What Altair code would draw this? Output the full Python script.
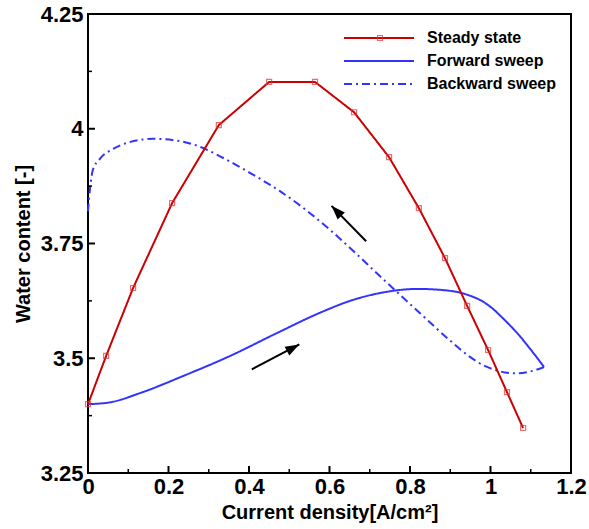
import altair as alt
import pandas as pd

# ---------------- data ----------------
names = ["Steady state", "Forward sweep", "Backward sweep"]

ss_x = [0.0, 0.045, 0.112, 0.209, 0.325, 0.45, 0.564, 0.661, 0.748, 0.822, 0.887, 0.942, 0.994, 1.041, 1.081]
ss_y = [3.40, 3.505, 3.653, 3.838, 4.008, 4.102, 4.102, 4.036, 3.938, 3.827, 3.718, 3.614, 3.518, 3.426, 3.348]

fw_x = [0.0, 0.055, 0.129, 0.241, 0.353, 0.465, 0.576, 0.651, 0.725, 0.82, 0.899, 0.95, 0.974, 1.0,
        1.031, 1.073, 1.098, 1.133]
fw_y = [3.40, 3.404, 3.424, 3.463, 3.505, 3.553, 3.599, 3.625, 3.642, 3.651, 3.647, 3.636, 3.627, 3.612,
        3.587, 3.548, 3.521, 3.481]

bw_x = [1.133, 1.098, 1.066, 1.036, 1.014, 0.984, 0.949, 0.899, 0.825, 0.768, 0.725, 0.66, 0.601, 0.54,
        0.477, 0.40, 0.328, 0.286, 0.229, 0.161, 0.10, 0.062, 0.030, 0.012, 0.005, 0.0]
bw_y = [3.481, 3.471, 3.467, 3.469, 3.474, 3.484, 3.503, 3.539, 3.598, 3.644, 3.679, 3.733, 3.780, 3.824,
        3.864, 3.905, 3.940, 3.958, 3.973, 3.978, 3.970, 3.956, 3.935, 3.910, 3.870, 3.82]

# arrows: tail -> tip, with head rotation (degrees, clockwise from up)
arr_x0 = [0.407, 0.691]
arr_y0 = [3.476, 3.755]
arr_x1 = [0.525, 0.605]
arr_y1 = [3.530, 3.832]
arr_angle = [62, 316]

x_major = [0, 0.2, 0.4, 0.6, 0.8, 1.0, 1.2]
x_minor = [0.1, 0.3, 0.5, 0.7, 0.9, 1.1]
y_major = [3.25, 3.5, 3.75, 4.0, 4.25]
y_minor = [3.375, 3.625, 3.875, 4.125]

# ---------------- tables ----------------
rows = []
for i, (x, y) in enumerate(zip(ss_x, ss_y)):
    rows.append({"series": names[0], "x": x, "y": y, "i": i})
steady = pd.DataFrame(rows)

rows = []
for i, (x, y) in enumerate(zip(fw_x, fw_y)):
    rows.append({"series": names[1], "x": x, "y": y, "i": i})
for i, (x, y) in enumerate(zip(bw_x, bw_y)):
    rows.append({"series": names[2], "x": x, "y": y, "i": i})
sweeps = pd.DataFrame(rows)

arrows = pd.DataFrame({"x0": arr_x0, "y0": arr_y0, "x1": arr_x1, "y1": arr_y1, "a": arr_angle})

FONT = "Liberation Sans"
W, H = 483, 459

xs = alt.Scale(domain=[0, 1.2], nice=False, zero=False)
ys = alt.Scale(domain=[3.25, 4.25], nice=False, zero=False)

x_axis = alt.Axis(values=x_major, labelExpr="'' + datum.value", domain=False, ticks=False, tickSize=0,
                  grid=False, labelFont=FONT, labelFontSize=22, labelFontWeight="bold", labelColor="black",
                  labelPadding=3, labelFlush=False,
                  title="Current density[A/cm²]", titleFont=FONT, titleFontSize=20,
                  titleFontWeight="bold", titleColor="black", titlePadding=5)
y_axis = alt.Axis(values=y_major, labelExpr="'' + datum.value", domain=False, ticks=False, tickSize=0,
                  grid=False, labelFont=FONT, labelFontSize=22, labelFontWeight="bold", labelColor="black",
                  labelPadding=5, labelFlush=False,
                  title="Water content [-]", titleFont=FONT, titleFontSize=20,
                  titleFontWeight="bold", titleColor="black", titlePadding=7)

leg = dict(orient="none", legendX=283, legendY=16, title=None,
           symbolType="M-10,0L10,0", symbolSize=49, symbolStrokeWidth=2,
           labelFont=FONT, labelFontSize=16, labelFontWeight="bold", labelColor="black",
           labelOffset=40, rowPadding=7, padding=0)

color = alt.Color("series:N", scale=alt.Scale(domain=names, range=["#cc0000", "#3333ff", "#3333ff"]),
                  legend=alt.Legend(**leg))
dash = alt.StrokeDash("series:N", scale=alt.Scale(domain=names, range=[[1, 0], [1, 0], [8, 4, 2, 4]]),
                      legend=alt.Legend(**leg))

sweep_lines = alt.Chart(sweeps).mark_line(strokeWidth=2, interpolate="monotone").encode(
    x=alt.X("x:Q", scale=xs, axis=x_axis),
    y=alt.Y("y:Q", scale=ys, axis=y_axis),
    color=color, strokeDash=dash, order="i:Q")

steady_line = alt.Chart(steady).mark_line(strokeWidth=2).encode(
    x=alt.X("x:Q", scale=xs), y=alt.Y("y:Q", scale=ys),
    color=color, strokeDash=dash, order="i:Q")

steady_pts = alt.Chart(steady).mark_point(filled=False, size=25, strokeWidth=1.2, color="#dd3333").encode(
    x=alt.X("x:Q", scale=xs), y=alt.Y("y:Q", scale=ys),
    shape=alt.Shape("series:N", scale=alt.Scale(domain=[names[0]], range=["square"]),
                    legend=alt.Legend(orient="none", legendX=284, legendY=16, title=None,
                                      labelExpr="''", symbolSize=25, symbolStrokeWidth=1.2,
                                      labelFontSize=16, padding=0)))

arrow_lines = alt.Chart(arrows).mark_rule(color="black", strokeWidth=2).encode(
    x=alt.X("x0:Q", scale=xs), y=alt.Y("y0:Q", scale=ys), x2="x1:Q", y2="y1:Q")

arrow_heads = alt.Chart(arrows).mark_point(shape="M0,0L0.5,1.4L-0.5,1.4Z", filled=True, color="black",
                                           size=400, opacity=1).encode(
    x=alt.X("x1:Q", scale=xs), y=alt.Y("y1:Q", scale=ys), angle=alt.Angle("a:Q", scale=None))

xt_major = alt.Chart(pd.DataFrame({"t": x_major})).mark_rule(color="black", strokeWidth=2).encode(
    x=alt.X("t:Q", scale=xs), y=alt.value(H), y2=alt.value(H - 7))
xt_minor = alt.Chart(pd.DataFrame({"t": x_minor})).mark_rule(color="black", strokeWidth=1.5).encode(
    x=alt.X("t:Q", scale=xs), y=alt.value(H), y2=alt.value(H - 4))
yt_major = alt.Chart(pd.DataFrame({"t": y_major})).mark_rule(color="black", strokeWidth=2).encode(
    y=alt.Y("t:Q", scale=ys), x=alt.value(0), x2=alt.value(7))
yt_minor = alt.Chart(pd.DataFrame({"t": y_minor})).mark_rule(color="black", strokeWidth=1.5).encode(
    y=alt.Y("t:Q", scale=ys), x=alt.value(0), x2=alt.value(4))

chart = alt.layer(
    sweep_lines, steady_line, steady_pts, arrow_lines, arrow_heads,
    xt_major, xt_minor, yt_major, yt_minor
).properties(
    width=W, height=H,
    autosize=alt.AutoSizeParams(type="none"),
    padding={"left": 88, "top": 14, "right": 18, "bottom": 56},
    background="white",
).configure_view(stroke="black", strokeWidth=2)

chart.save("out.html", embed_options={"renderer": "svg", "actions": False})
